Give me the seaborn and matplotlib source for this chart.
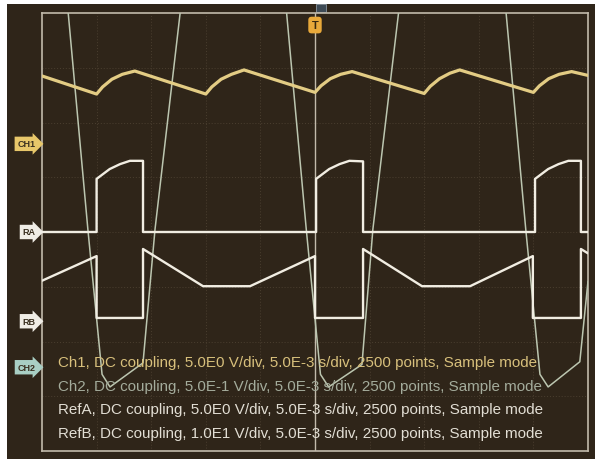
import numpy as np
import pandas as pd
import matplotlib
matplotlib.use("Agg")
import matplotlib.pyplot as plt
import seaborn as sns

# ------------------------------------------------
# screen data, in divisions (x: 0..10, y: -4..4)
# ------------------------------------------------
ch1_t = [0.0, 1.0, 1.11, 1.28, 1.47, 1.70, 3.0, 3.11, 3.28, 3.47, 3.70,
         5.0, 5.11, 5.28, 5.47, 5.68, 7.0, 7.11, 7.28, 7.47, 7.65,
         9.0, 9.11, 9.28, 9.47, 9.70, 10.0]
ch1_v = [2.85, 2.52, 2.65, 2.79, 2.88, 2.94, 2.52, 2.65, 2.79, 2.88, 2.96,
         2.55, 2.67, 2.80, 2.88, 2.93, 2.53, 2.66, 2.80, 2.90, 2.96,
         2.55, 2.67, 2.80, 2.88, 2.93, 2.86]

ch2_t = [0.0, 0.48, 0.84, 1.10, 1.245, 1.85, 2.07, 2.53, 3.5,
         4.48, 4.84, 5.10, 5.25, 5.86, 6.06, 6.53, 7.5,
         8.50, 8.86, 9.12, 9.27, 9.85, 10.0]
ch2_v = [8.5, 4.0, 0.05, -2.6, -2.83, -2.39, 0.05, 4.0, 13.0,
         4.0, 0.05, -2.6, -2.83, -2.42, 0.05, 4.0, 13.0,
         4.0, 0.05, -2.6, -2.83, -2.37, -0.9]

refa_t = [0.0, 1.0, 1.0, 1.24, 1.43, 1.61, 1.85, 1.85,
          5.02, 5.02, 5.26, 5.45, 5.63, 5.88, 5.88,
          9.03, 9.03, 9.27, 9.46, 9.64, 9.87, 9.87, 10.0]
refa_v = [0.0, 0.0, 0.97, 1.15, 1.24, 1.30, 1.30, 0.0,
          0.0, 0.97, 1.15, 1.24, 1.30, 1.29, 0.0,
          0.0, 0.97, 1.15, 1.24, 1.30, 1.30, 0.0, 0.0]

refb_t = [0.0, 1.0, 1.0, 1.85, 1.85, 2.95, 3.81, 5.0, 5.0, 5.88, 5.88,
          6.96, 7.84, 8.99, 8.99, 9.87, 9.87, 10.0]
refb_v = [-0.89, -0.44, -1.57, -1.57, -0.31, -0.99, -0.99, -0.44, -1.57, -1.57, -0.31,
          -0.99, -0.99, -0.44, -1.57, -1.57, -0.31, -0.39]

marcadores = ["CH1", "RA", "RB", "CH2"]
marcadores_y = [1.61, 0.0, -1.63, -2.47]

legendas = [
    "Ch1, DC coupling, 5.0E0 V/div, 5.0E-3 s/div, 2500 points, Sample mode",
    "Ch2, DC coupling, 5.0E-1 V/div, 5.0E-3 s/div, 2500 points, Sample mode",
    "RefA, DC coupling, 5.0E0 V/div, 5.0E-3 s/div, 2500 points, Sample mode",
    "RefB, DC coupling, 1.0E1 V/div, 5.0E-3 s/div, 2500 points, Sample mode",
]

# ------------------------------------------------
# cores
# ------------------------------------------------
FUNDO = "#2f2519"
AMARELO = "#e3cc84"
VERDE = "#bcc6b0"
BRANCO = "#f1ede2"
MOLDURA = "#c2baab"

sns.set_theme(style="dark")
plt.rcParams['font.family'] = ['Liberation Sans', 'DejaVu Sans']

fig = plt.figure(figsize=(5.95, 4.6), dpi=100, facecolor="white")
fundo = fig.add_axes([7 / 595, 0, 588 / 595, 455 / 460])
fundo.set_facecolor(FUNDO)
fundo.set_xticks([])
fundo.set_yticks([])
for s in fundo.spines.values():
    s.set_visible(False)
# pequeno indicador acima do T
fundo.add_patch(plt.Rectangle((316, 447), 10, 8, transform=None,
                              fc="#3d4a55", ec="#8a96a0", lw=0.6))

ax = fig.add_axes([42 / 595, 8 / 460, 546 / 595, 438 / 460])
ax.set_facecolor(FUNDO)

# grade
for gx in range(1, 10):
    ax.axvline(gx, color="#4b3f30", lw=0.7, ls=(0, (1, 2)), zorder=1)
for gy in range(-3, 4):
    ax.axhline(gy, color="#4b3f30", lw=0.7, ls=(0, (1, 2)), zorder=1)
ax.axvline(5, color=MOLDURA, lw=1.0, zorder=2)

tracos = [
    (ch2_t, ch2_v, VERDE, 1.1),
    (refb_t, refb_v, BRANCO, 1.7),
    (refa_t, refa_v, BRANCO, 1.7),
    (ch1_t, ch1_v, AMARELO, 2.3),
]
for t, v, cor, lw in tracos:
    df = pd.DataFrame({"t": t, "v": v})
    sns.lineplot(data=df, x="t", y="v", ax=ax, sort=False, estimator=None,
                 color=cor, lw=lw, zorder=3)

ax.set_xlim(0, 10)
ax.set_ylim(-4, 4)
ax.set_xticks([])
ax.set_yticks([])
ax.set_xlabel("")
ax.set_ylabel("")
for s in ax.spines.values():
    s.set_color(MOLDURA)
    s.set_linewidth(1.2)

# etiquetas de canal
cores_tag = ["#e8c76a", "#f0ede6", "#f0ede6", "#a9cfc4"]
trans = matplotlib.transforms.blended_transform_factory(ax.transAxes, ax.transData)
for nome, y, cor in zip(marcadores, marcadores_y, cores_tag):
    ax.text(-0.012, y, nome, transform=trans, ha="right", va="center",
            fontsize=6.5, fontweight="bold", color="#3a3020", clip_on=False,
            bbox=dict(boxstyle="rarrow,pad=0.3", fc=cor, ec="none"))

# marcador de disparo
ax.text(5, 3.78, "T", ha="center", va="center", fontsize=8, fontweight="bold",
        color="#3a2a10", zorder=5,
        bbox=dict(boxstyle="round,pad=0.3", fc="#e9a93a", ec="none"))

# textos
cores_txt = ["#d8c07c", "#a4ac9c", "#e2ded4", "#e2ded4"]
for i, (txt, cor) in enumerate(zip(legendas, cores_txt)):
    ax.text(0.29, -2.38 - i * 0.43, txt, color=cor, fontsize=10.9,
            ha="left", va="center", zorder=4)

fig.savefig("out.png", dpi=100, facecolor="white")
